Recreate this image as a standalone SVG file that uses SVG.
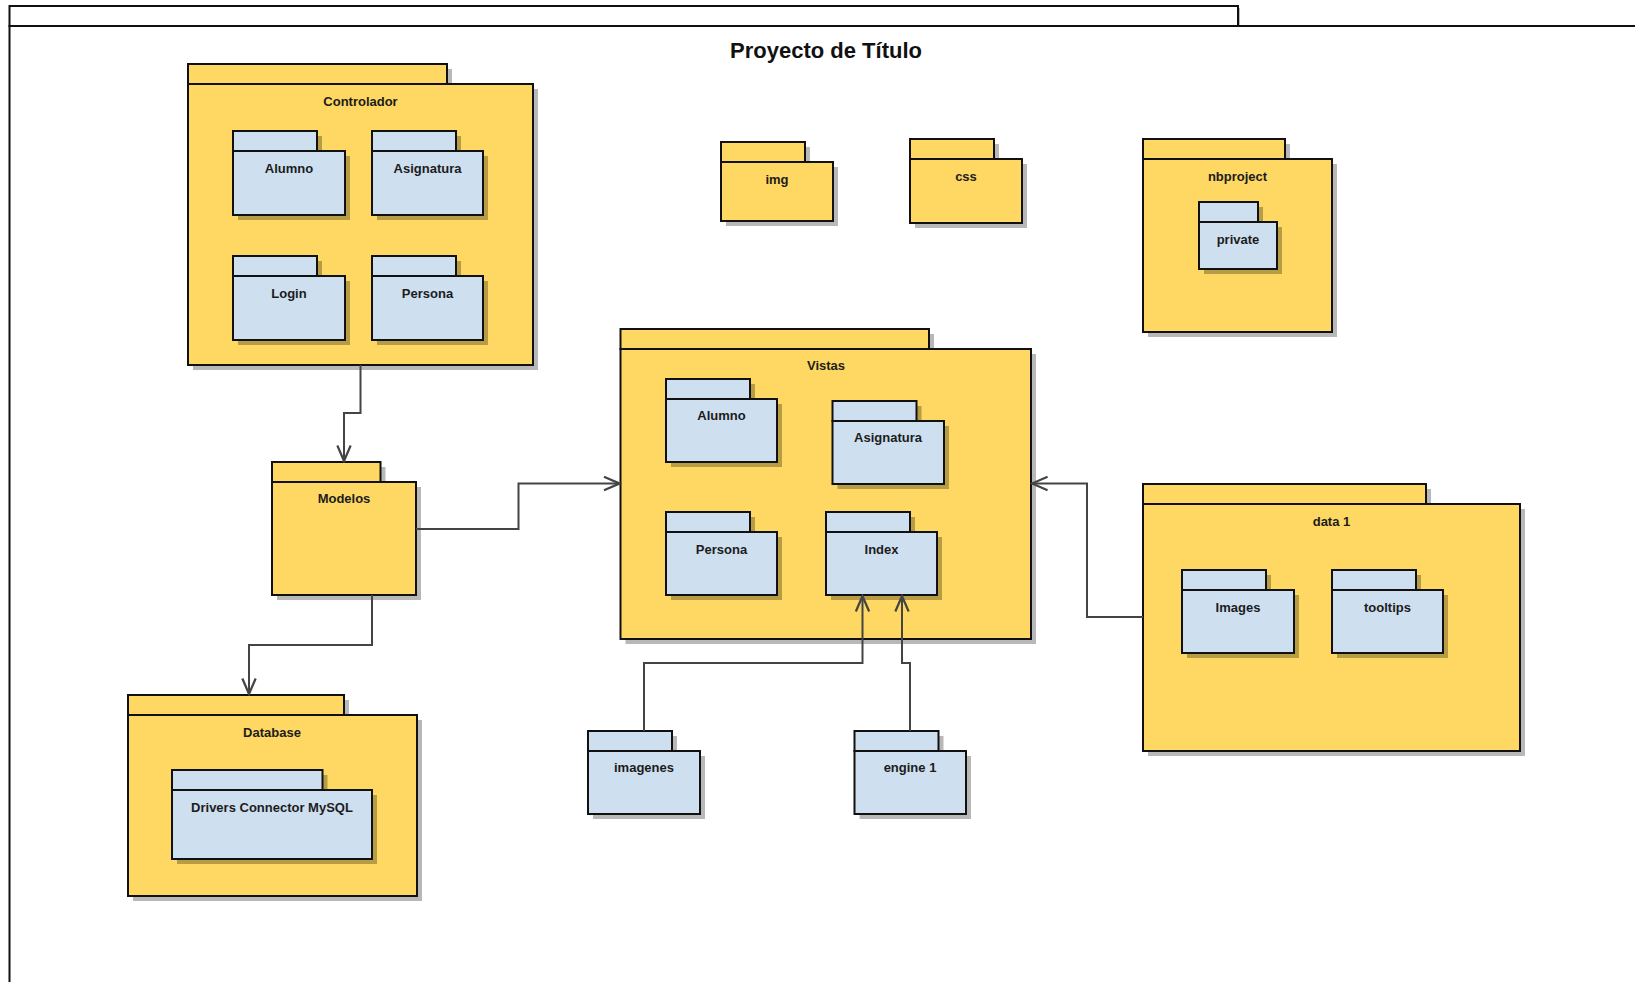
<svg xmlns="http://www.w3.org/2000/svg" width="1635" height="982" viewBox="0 0 1635 982">
  <style>
    .yel { fill: #FED862; stroke: #111; stroke-width: 2; }
    .blu { fill: #CEDFF0; stroke: #111; stroke-width: 2; }
    .frm { fill: #FFFFFF; stroke: #111; stroke-width: 2; }
    .sh { fill: #000; opacity: 0.28; }
    .lbl { font-family: "Liberation Sans", Arial, sans-serif; font-weight: bold; font-size: 13px; fill: #1c1c1c; text-anchor: middle; }
    .ttl { font-family: "Liberation Sans", Arial, sans-serif; font-weight: bold; font-size: 22px; fill: #111; text-anchor: middle; }
    .con { fill: none; stroke: #444; stroke-width: 2; }
  </style>
  <defs>
    <marker id="open" markerUnits="userSpaceOnUse" markerWidth="20" markerHeight="20" viewBox="-16 -8 18 16" refX="0" refY="0" orient="auto">
      <path d="M -14 -6 L 0 0 L -14 6" fill="none" stroke="#444" stroke-width="2"/>
    </marker>
  </defs>

  <rect width="1635" height="982" fill="#FFFFFF"/>

  <!-- outer project frame -->
  <g id="frame">
    <rect class="sh" x="12" y="8" width="1228" height="20"/>
    <rect class="frm" x="9.5" y="6" width="1228.5" height="20"/>
    <rect class="frm" x="9.5" y="26" width="1700" height="1100"/>
    <text class="ttl" x="826" y="58">Proyecto de Título</text>
  </g>

  <!-- Controlador -->
  <g id="controlador">
    <rect class="sh" x="193" y="69" width="259" height="20"/>
    <rect class="sh" x="193" y="89" width="345" height="281"/>
    <rect class="yel" x="188" y="64" width="259" height="20"/>
    <rect class="yel" x="188" y="84" width="345" height="281"/>
    <text class="lbl" x="360.5" y="106">Controlador</text>
    <g id="ctrl-alumno">
      <rect class="sh" x="238" y="136" width="84" height="20"/>
      <rect class="sh" x="238" y="156" width="112" height="64"/>
      <rect class="blu" x="233" y="131" width="84" height="20"/>
      <rect class="blu" x="233" y="151" width="112" height="64"/>
      <text class="lbl" x="289" y="173">Alumno</text>
    </g>
    <g id="ctrl-asignatura">
      <rect class="sh" x="377" y="136" width="84" height="20"/>
      <rect class="sh" x="377" y="156" width="111" height="64"/>
      <rect class="blu" x="372" y="131" width="84" height="20"/>
      <rect class="blu" x="372" y="151" width="111" height="64"/>
      <text class="lbl" x="427.5" y="173">Asignatura</text>
    </g>
    <g id="ctrl-login">
      <rect class="sh" x="238" y="261" width="84" height="20"/>
      <rect class="sh" x="238" y="281" width="112" height="64"/>
      <rect class="blu" x="233" y="256" width="84" height="20"/>
      <rect class="blu" x="233" y="276" width="112" height="64"/>
      <text class="lbl" x="289" y="298">Login</text>
    </g>
    <g id="ctrl-persona">
      <rect class="sh" x="377" y="261" width="84" height="20"/>
      <rect class="sh" x="377" y="281" width="111" height="64"/>
      <rect class="blu" x="372" y="256" width="84" height="20"/>
      <rect class="blu" x="372" y="276" width="111" height="64"/>
      <text class="lbl" x="427.5" y="298">Persona</text>
    </g>
  </g>

  <!-- img -->
  <g id="img">
    <rect class="sh" x="726" y="147" width="84" height="20"/>
    <rect class="sh" x="726" y="167" width="112" height="59"/>
    <rect class="yel" x="721" y="142" width="84" height="20"/>
    <rect class="yel" x="721" y="162" width="112" height="59"/>
    <text class="lbl" x="777" y="184">img</text>
  </g>

  <!-- css -->
  <g id="css">
    <rect class="sh" x="915" y="144" width="84" height="20"/>
    <rect class="sh" x="915" y="164" width="112" height="64"/>
    <rect class="yel" x="910" y="139" width="84" height="20"/>
    <rect class="yel" x="910" y="159" width="112" height="64"/>
    <text class="lbl" x="966" y="181">css</text>
  </g>

  <!-- nbproject -->
  <g id="nbproject">
    <rect class="sh" x="1148" y="144" width="142" height="20"/>
    <rect class="sh" x="1148" y="164" width="189" height="173"/>
    <rect class="yel" x="1143" y="139" width="142" height="20"/>
    <rect class="yel" x="1143" y="159" width="189" height="173"/>
    <text class="lbl" x="1237.5" y="181">nbproject</text>
    <g id="nb-private">
      <rect class="sh" x="1204" y="207" width="59" height="20"/>
      <rect class="sh" x="1204" y="227" width="78" height="47"/>
      <rect class="blu" x="1199" y="202" width="59" height="20"/>
      <rect class="blu" x="1199" y="222" width="78" height="47"/>
      <text class="lbl" x="1238" y="244">private</text>
    </g>
  </g>

  <!-- Vistas -->
  <g id="vistas">
    <rect class="sh" x="625.5" y="334" width="308.5" height="20"/>
    <rect class="sh" x="625.5" y="354" width="410.5" height="290"/>
    <rect class="yel" x="620.5" y="329" width="308.5" height="20"/>
    <rect class="yel" x="620.5" y="349" width="410.5" height="290"/>
    <text class="lbl" x="826" y="370">Vistas</text>
    <g id="vis-alumno">
      <rect class="sh" x="671" y="384" width="84" height="20"/>
      <rect class="sh" x="671" y="404" width="111" height="63"/>
      <rect class="blu" x="666" y="379" width="84" height="20"/>
      <rect class="blu" x="666" y="399" width="111" height="63"/>
      <text class="lbl" x="721.5" y="420">Alumno</text>
    </g>
    <g id="vis-asignatura">
      <rect class="sh" x="837.5" y="406" width="84" height="20"/>
      <rect class="sh" x="837.5" y="426" width="111.5" height="63"/>
      <rect class="blu" x="832.5" y="401" width="84" height="20"/>
      <rect class="blu" x="832.5" y="421" width="111.5" height="63"/>
      <text class="lbl" x="888" y="442">Asignatura</text>
    </g>
    <g id="vis-persona">
      <rect class="sh" x="671" y="517" width="84" height="20"/>
      <rect class="sh" x="671" y="537" width="111" height="63"/>
      <rect class="blu" x="666" y="512" width="84" height="20"/>
      <rect class="blu" x="666" y="532" width="111" height="63"/>
      <text class="lbl" x="721.5" y="554">Persona</text>
    </g>
    <g id="vis-index">
      <rect class="sh" x="831" y="517" width="84" height="20"/>
      <rect class="sh" x="831" y="537" width="111" height="63"/>
      <rect class="blu" x="826" y="512" width="84" height="20"/>
      <rect class="blu" x="826" y="532" width="111" height="63"/>
      <text class="lbl" x="881.5" y="554">Index</text>
    </g>
  </g>

  <!-- Modelos -->
  <g id="modelos">
    <rect class="sh" x="277" y="467" width="108.5" height="20"/>
    <rect class="sh" x="277" y="487" width="144" height="113"/>
    <rect class="yel" x="272" y="462" width="108.5" height="20"/>
    <rect class="yel" x="272" y="482" width="144" height="113"/>
    <text class="lbl" x="344" y="503">Modelos</text>
  </g>

  <!-- Database -->
  <g id="database">
    <rect class="sh" x="133" y="700" width="216" height="20"/>
    <rect class="sh" x="133" y="720" width="289" height="181"/>
    <rect class="yel" x="128" y="695" width="216" height="20"/>
    <rect class="yel" x="128" y="715" width="289" height="181"/>
    <text class="lbl" x="272" y="737">Database</text>
    <g id="db-drivers">
      <rect class="sh" x="177" y="775" width="150.5" height="20"/>
      <rect class="sh" x="177" y="795" width="200" height="69"/>
      <rect class="blu" x="172" y="770" width="150.5" height="20"/>
      <rect class="blu" x="172" y="790" width="200" height="69"/>
      <text class="lbl" x="272" y="812">Drivers Connector MySQL</text>
    </g>
  </g>

  <!-- imagenes -->
  <g id="imagenes">
    <rect class="sh" x="593" y="736" width="84" height="20"/>
    <rect class="sh" x="593" y="756" width="112" height="63"/>
    <rect class="blu" x="588" y="731" width="84" height="20"/>
    <rect class="blu" x="588" y="751" width="112" height="63"/>
    <text class="lbl" x="644" y="772">imagenes</text>
  </g>

  <!-- engine 1 -->
  <g id="engine1">
    <rect class="sh" x="859.5" y="736" width="84" height="20"/>
    <rect class="sh" x="859.5" y="756" width="111.5" height="63"/>
    <rect class="blu" x="854.5" y="731" width="84" height="20"/>
    <rect class="blu" x="854.5" y="751" width="111.5" height="63"/>
    <text class="lbl" x="910" y="772">engine 1</text>
  </g>

  <!-- data 1 -->
  <g id="data1">
    <rect class="sh" x="1148" y="489" width="283" height="20"/>
    <rect class="sh" x="1148" y="509" width="377" height="247"/>
    <rect class="yel" x="1143" y="484" width="283" height="20"/>
    <rect class="yel" x="1143" y="504" width="377" height="247"/>
    <text class="lbl" x="1331.5" y="526">data 1</text>
    <g id="data-images">
      <rect class="sh" x="1187" y="575" width="84" height="20"/>
      <rect class="sh" x="1187" y="595" width="112" height="63"/>
      <rect class="blu" x="1182" y="570" width="84" height="20"/>
      <rect class="blu" x="1182" y="590" width="112" height="63"/>
      <text class="lbl" x="1238" y="612">Images</text>
    </g>
    <g id="data-tooltips">
      <rect class="sh" x="1337" y="575" width="84" height="20"/>
      <rect class="sh" x="1337" y="595" width="111" height="63"/>
      <rect class="blu" x="1332" y="570" width="84" height="20"/>
      <rect class="blu" x="1332" y="590" width="111" height="63"/>
      <text class="lbl" x="1387.5" y="612">tooltips</text>
    </g>
  </g>

  <!-- dependencies -->
  <g id="connectors">
    <path class="con" d="M 360.5 365 V 413 H 344 V 461" marker-end="url(#open)"/>
    <path class="con" d="M 372 595 V 645 H 249 V 694" marker-end="url(#open)"/>
    <path class="con" d="M 416 529 H 518.5 V 483.5 H 619.5" marker-end="url(#open)"/>
    <path class="con" d="M 1143 617 H 1087 V 483.5 H 1032" marker-end="url(#open)"/>
    <path class="con" d="M 644 731 V 663 H 862.5 V 596" marker-end="url(#open)"/>
    <path class="con" d="M 910 731 V 663 H 902 V 596" marker-end="url(#open)"/>
  </g>
</svg>
